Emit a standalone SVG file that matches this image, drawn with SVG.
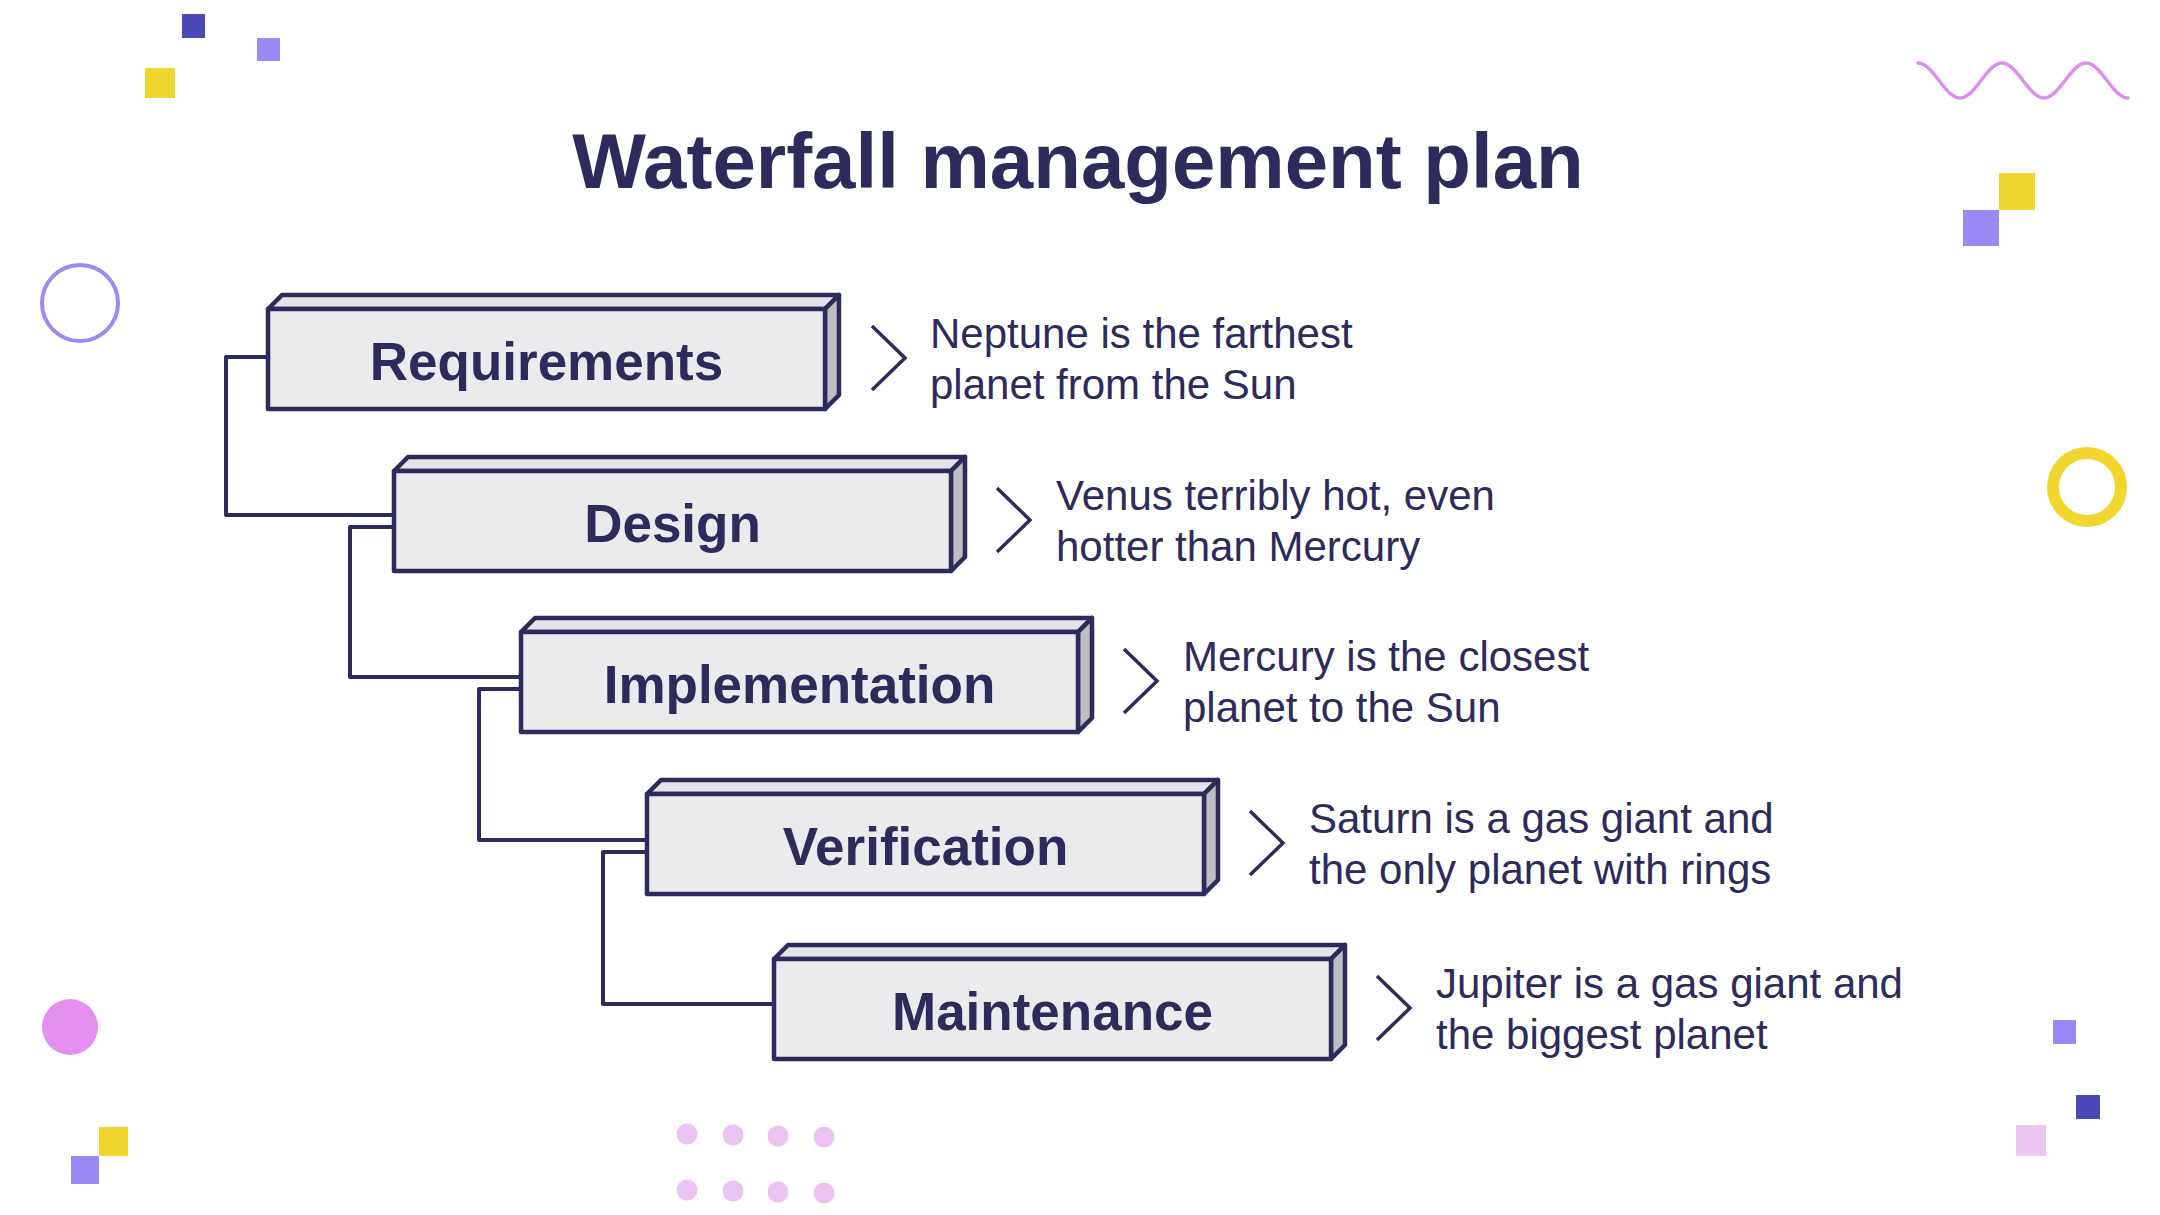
<svg xmlns="http://www.w3.org/2000/svg" width="2160" height="1215" viewBox="0 0 2160 1215">
  <style>
    .bg { fill: #FFFFFF; }
    .front { fill: #EBEBED; stroke: #2D2A5C; stroke-width: 4.5; stroke-linejoin: round; }
    .top { fill: #E4E4E8; stroke: #2D2A5C; stroke-width: 4.5; stroke-linejoin: round; }
    .side { fill: #BDBDC3; stroke: #2D2A5C; stroke-width: 4.5; stroke-linejoin: round; }
    .label { font-family: "Liberation Sans", Arial, sans-serif; font-weight: bold; font-size: 53px; fill: #2D2A5C; text-anchor: middle; }
    .desc { font-family: "Liberation Sans", Arial, sans-serif; font-size: 42px; fill: #2D2A5C; }
    .title { font-family: "Liberation Sans", Arial, sans-serif; font-weight: bold; font-size: 78px; fill: #2D2A5C; text-anchor: middle; }
    .chev { fill: none; stroke: #2D2A5C; stroke-width: 3.5; stroke-linejoin: miter; }
    .conn { fill: none; stroke: #2D2A5C; stroke-width: 4; stroke-linejoin: round; stroke-linecap: round; }
    .yellow { fill: #F2D630; }
    .lav { fill: #9B89F6; }
    .indigo { fill: #4A49B6; }
    .pink { fill: #ECC5F2; }
  </style>

  <rect class="bg" x="0" y="0" width="2160" height="1215"/>

  <g id="decorations">
    <rect class="indigo" x="182" y="14" width="23" height="24"/>
    <rect class="lav" x="257" y="38" width="23" height="23"/>
    <rect class="yellow" x="145" y="68" width="30" height="30"/>
    <circle cx="80" cy="303" r="38" fill="none" stroke="#9B89F6" stroke-width="4"/>
    <path d="M1918,63 C1933.3,63 1944.7,98 1960,98 S1986.7,63 2002,63 S2028.7,98 2044,98 S2070.7,63 2086,63 S2112.7,98 2128,98" fill="none" stroke="#DB8FEA" stroke-width="3.5" stroke-linecap="round"/>
    <rect class="yellow" x="1999" y="173" width="36" height="37"/>
    <rect class="lav" x="1963" y="210" width="36" height="36"/>
    <circle cx="2087" cy="487" r="34" fill="none" stroke="#F2D630" stroke-width="12"/>
    <circle cx="70" cy="1027" r="28" fill="#E48FF0"/>
    <rect class="yellow" x="99" y="1127" width="29" height="29"/>
    <rect class="lav" x="71" y="1156" width="28" height="28"/>
    <g fill="#EBC3F3">
      <circle cx="687" cy="1134" r="10.5"/>
      <circle cx="733" cy="1135" r="10.5"/>
      <circle cx="778" cy="1136" r="10.5"/>
      <circle cx="824" cy="1137" r="10.5"/>
      <circle cx="687" cy="1190" r="10.5"/>
      <circle cx="733" cy="1191" r="10.5"/>
      <circle cx="778" cy="1192" r="10.5"/>
      <circle cx="824" cy="1193" r="10.5"/>
    </g>
    <rect class="lav" x="2053" y="1020" width="23" height="24"/>
    <rect class="indigo" x="2076" y="1095" width="24" height="24"/>
    <rect class="pink" x="2016" y="1125" width="30" height="31"/>
  </g>

  <text class="title" x="1078" y="188">Waterfall management plan</text>

  <g id="connectors">
    <path class="conn" d="M268,357 H226 V515 H394"/>
    <path class="conn" d="M394,527 H350 V677 H521"/>
    <path class="conn" d="M521,689 H479 V840 H647"/>
    <path class="conn" d="M647,852 H603 V1004 H774"/>
  </g>

  <g id="node-requirements" transform="translate(268,309)">
    <polygon class="top" points="0,0 14,-14 571,-14 557,0"/>
    <polygon class="side" points="557,0 571,-14 571,86 557,100"/>
    <rect class="front" x="0" y="0" width="557" height="100"/>
    <text class="label" x="278.5" y="71">Requirements</text>
    <path class="chev" d="M604,17 L637,49 L604,81"/>
    <text class="desc" x="662" y="39">Neptune is the farthest<tspan x="662" y="90">planet from the Sun</tspan></text>
  </g>

  <g id="node-design" transform="translate(394,471)">
    <polygon class="top" points="0,0 14,-14 571,-14 557,0"/>
    <polygon class="side" points="557,0 571,-14 571,86 557,100"/>
    <rect class="front" x="0" y="0" width="557" height="100"/>
    <text class="label" x="278.5" y="71">Design</text>
    <path class="chev" d="M603,17 L636,49 L603,81"/>
    <text class="desc" x="662" y="39">Venus terribly hot, even<tspan x="662" y="90">hotter than Mercury</tspan></text>
  </g>

  <g id="node-implementation" transform="translate(521,632)">
    <polygon class="top" points="0,0 14,-14 571,-14 557,0"/>
    <polygon class="side" points="557,0 571,-14 571,86 557,100"/>
    <rect class="front" x="0" y="0" width="557" height="100"/>
    <text class="label" x="278.5" y="71">Implementation</text>
    <path class="chev" d="M603,17 L636,49 L603,81"/>
    <text class="desc" x="662" y="39">Mercury is the closest<tspan x="662" y="90">planet to the Sun</tspan></text>
  </g>

  <g id="node-verification" transform="translate(647,794)">
    <polygon class="top" points="0,0 14,-14 571,-14 557,0"/>
    <polygon class="side" points="557,0 571,-14 571,86 557,100"/>
    <rect class="front" x="0" y="0" width="557" height="100"/>
    <text class="label" x="278.5" y="71">Verification</text>
    <path class="chev" d="M603,17 L636,49 L603,81"/>
    <text class="desc" x="662" y="39">Saturn is a gas giant and<tspan x="662" y="90">the only planet with rings</tspan></text>
  </g>

  <g id="node-maintenance" transform="translate(774,959)">
    <polygon class="top" points="0,0 14,-14 571,-14 557,0"/>
    <polygon class="side" points="557,0 571,-14 571,86 557,100"/>
    <rect class="front" x="0" y="0" width="557" height="100"/>
    <text class="label" x="278.5" y="71">Maintenance</text>
    <path class="chev" d="M603,17 L636,49 L603,81"/>
    <text class="desc" x="662" y="39">Jupiter is a gas giant and<tspan x="662" y="90">the biggest planet</tspan></text>
  </g>
</svg>
